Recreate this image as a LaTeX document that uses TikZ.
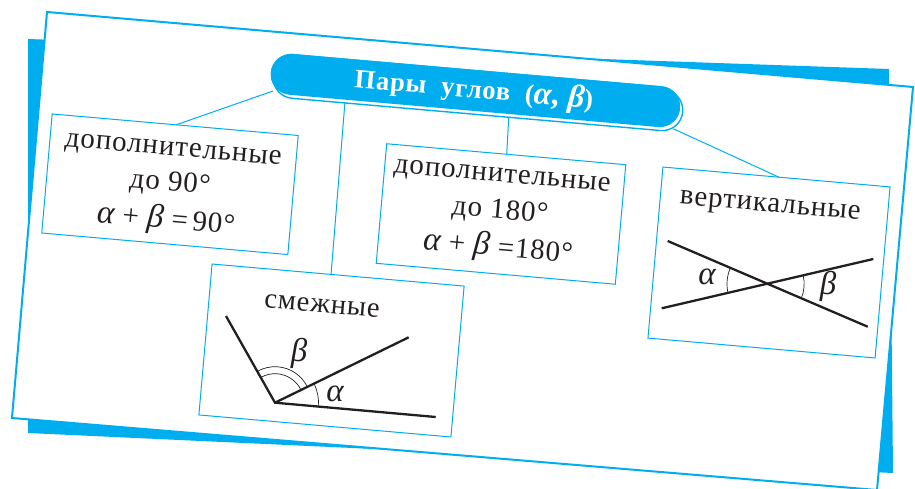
\documentclass[tikz,border=0pt]{standalone}
\usepackage{fontspec}
\setmainfont{Liberation Serif}
\newfontfamily\spaced{Liberation Serif}[LetterSpace=3.2]
\usetikzlibrary{calc}
\definecolor{cy}{HTML}{00AEEF}
\definecolor{ink}{HTML}{231F20}
\newcommand{\bigG}[1]{{\fontsize{33}{29}\selectfont\itshape #1}}
\tikzset{
  box/.style={draw=cy,line width=1pt,fill=white,inner sep=0pt,outer sep=0pt,rotate=-5},
  lab/.style={text=ink,inner sep=0pt,font=\fontsize{29}{29}\spaced\selectfont,rotate=-5},
  greek/.style={text=ink,inner sep=0pt,font=\fontsize{33}{29}\selectfont\itshape},
  conn/.style={draw=cy,line width=1pt},
  ray/.style={draw=ink,line width=2.3pt},
  thin arc/.style={draw=ink,line width=.7pt},
  pillshape/.style={rectangle,rounded corners=20.5pt,minimum width=411pt,minimum height=41pt,inner sep=0pt,outer sep=0pt,rotate=-5}
}
\begin{document}
\begin{tikzpicture}[x=1pt,y=-1pt]
\useasboundingbox (0,0) rectangle (915,489);
\clip (0,0) rectangle (915,489);
% sheets
\fill[cy] (28,39) -- (889,69) -- (893,473) -- (28,433) -- cycle;
\draw[draw=cy,line width=2pt,fill=white] (47,12) -- (913,87) -- (877,490) -- (12,418) -- cycle;
% pill
\node[pillshape,fill=cy] (pill) at (475.5,90.5) {};
% boxes
\node[box,minimum width=247pt,minimum height=119.5pt] (b1) at (170,184.25) {};
\node[box,minimum width=240pt,minimum height=120pt] (b2) at (501,214) {};
\node[box,minimum width=228pt,minimum height=171.7pt] (b3) at (769,262.5) {};
\node[box,minimum width=253pt,minimum height=151.5pt] (b4) at (331.5,350.5) {};
% connectors
\draw[conn] ($(pill.south west)+(4,-2)$) -- ($(b1.north west)!.504!(b1.north east)$);
\draw[conn] ($(pill.south west)!.186!(pill.south east)$) -- ($(b4.north west)!.472!(b4.north east)$);
\draw[conn] ($(pill.south west)!.586!(pill.south east)$) -- ($(b2.north west)!.502!(b2.north east)$);
\draw[conn] ($(pill.south east)+(-5,0)$) -- ($(b3.north west)!.511!(b3.north east)$);
\node[pillshape,draw=cy,line width=1.4pt,fill=white] at (478,94) {};
\node[pillshape,fill=cy] at (475.5,90.5) {};
\node[rotate=-5,text=white,inner sep=0pt,font=\fontsize{26.5}{27}\spaced\selectfont\bfseries] (title) at (474,90) {Пары\ \ углов\ \ ({\fontsize{32}{27}\selectfont\itshape α,}\ {\fontsize{32}{27}\selectfont\itshape β})};
% texts
\node[lab] (t1a) at (173,151.5) {дополнительные};
\node[lab] (t1b) at (170,184) {до\ 90°};
\node[lab] (t1c) at (166,220) {\bigG{α} + \bigG{β} =\,90°};
\node[lab] (t2a) at (502,178) {дополнительные};
\node[lab] (t2b) at (500,212) {до\ 180°};
\node[lab] (t2c) at (498,248) {\bigG{α} + \bigG{β} =180°};
\node[lab] (t3) at (770,208) {вертикальные};
\node[lab,font=\fontsize{28.5}{29}\spaced\selectfont] (t4) at (322,306) {смежные};
% adjacent angles
\coordinate (V) at (275,402.7);
\coordinate (A) at (226,316);
\coordinate (B) at (408.7,337.3);
\coordinate (C) at (435.7,417);
\draw[ray] (A) -- (V) -- (C);
\draw[ray] (V) -- (B);
\draw[thin arc] ($(V)+(5:43.5)$) arc (5:-26:43.5);
\draw[thin arc] ($(V)+(-26:36)$) arc (-26:-119.4:36);
\draw[thin arc] ($(V)+(-26:29)$) arc (-26:-119.4:29);
\node[greek] (ba) at (299,353) {β};
\node[greek] (aa) at (335,394) {α};
% vertical angles
\coordinate (P) at (667.7,241);
\coordinate (Q) at (867.7,326.7);
\coordinate (R) at (661.7,308.3);
\coordinate (S) at (873.3,259);
\coordinate (X) at (767.7,284);
\draw[ray] (P) -- (Q);
\draw[ray] (R) -- (S);
\draw[thin arc] ($(X)+(-156.8:40.7)$) arc (-156.8:-193.1:40.7);
\draw[thin arc] ($(X)+(-13.1:36.5)$) arc (-13.1:23.2:36.5);
\node[greek] (av) at (707,277) {α};
\node[greek] (bv) at (828,286) {β};
\end{tikzpicture}
\end{document}
